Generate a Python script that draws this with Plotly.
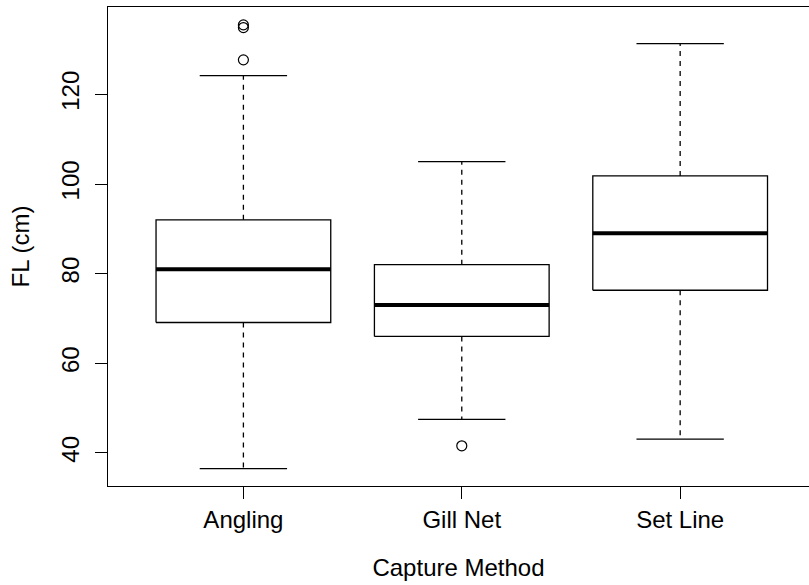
import plotly.graph_objects as go

# Fork length summaries by capture method
methods = ["Angling", "Gill Net", "Set Line"]
lower_whisker = [36.5, 47.5, 43.1]
q1 = [69.1, 66.0, 76.3]
median = [81.0, 73.0, 89.0]
q3 = [92.0, 82.0, 101.8]
upper_whisker = [124.2, 105.0, 131.3]
outliers = [[127.7, 134.9, 135.5], [41.6], []]

y_ticks = [40, 60, 80, 100, 120]

BOX_HALF = 0.4
STAPLE_HALF = 0.2
FONT = "Liberation Sans, Arial, Helvetica, sans-serif"

fig = go.Figure()

for i, name in enumerate(methods):
    c = i + 1
    # box body
    fig.add_trace(go.Scatter(
        x=[c - BOX_HALF, c + BOX_HALF, c + BOX_HALF, c - BOX_HALF, c - BOX_HALF],
        y=[q1[i], q1[i], q3[i], q3[i], q1[i]],
        mode="lines", line=dict(color="black", width=1.3),
        showlegend=False, hoverinfo="skip"))
    # median
    fig.add_trace(go.Scatter(
        x=[c - BOX_HALF, c + BOX_HALF], y=[median[i], median[i]],
        mode="lines", line=dict(color="black", width=4),
        showlegend=False, hoverinfo="skip"))
    # whiskers (dashed)
    for a, b in ((q3[i], upper_whisker[i]), (q1[i], lower_whisker[i])):
        fig.add_trace(go.Scatter(
            x=[c, c], y=[a, b], mode="lines",
            line=dict(color="black", width=1.3, dash="5px,5px"),
            showlegend=False, hoverinfo="skip"))
    # staples
    for v in (upper_whisker[i], lower_whisker[i]):
        fig.add_trace(go.Scatter(
            x=[c - STAPLE_HALF, c + STAPLE_HALF], y=[v, v], mode="lines",
            line=dict(color="black", width=1.3),
            showlegend=False, hoverinfo="skip"))
    # outlying points
    if outliers[i]:
        fig.add_trace(go.Scatter(
            x=[c] * len(outliers[i]), y=outliers[i], mode="markers",
            marker=dict(symbol="circle-open", size=10, color="black",
                        line=dict(width=1.2)),
            showlegend=False, hoverinfo="skip"))

fig.update_layout(
    width=809, height=585,
    margin=dict(l=108, r=0, t=7, b=99),
    paper_bgcolor="white", plot_bgcolor="white",
    font=dict(family=FONT, size=24, color="black"),
    showlegend=False,
    xaxis=dict(
        range=[0.38, 3.59], tickmode="array", tickvals=[1, 2, 3],
        ticktext=methods, ticks="outside", ticklen=12, tickwidth=1.3,
        tickcolor="black", showline=True, mirror=True, linecolor="black",
        linewidth=1.3, showgrid=False, zeroline=False,
        ticklabelstandoff=0,
        title=dict(text="Capture Method", standoff=27,
                   font=dict(family=FONT, size=24)),
        automargin=False, fixedrange=True),
    yaxis=dict(
        range=[32.63, 139.49], tickmode="array", tickvals=y_ticks,
        ticktext=[str(v) for v in y_ticks], tickangle=-90,
        ticks="outside", ticklen=12, tickwidth=1.3, tickcolor="black",
        showline=True, mirror=False, linecolor="black", linewidth=1.3,
        showgrid=False, zeroline=False, ticklabelstandoff=6,
        title=dict(text="FL (cm)", standoff=20,
                   font=dict(family=FONT, size=24)),
        automargin=False, fixedrange=True),
)

fig.write_html("out.html", config={"displayModeBar": False})
